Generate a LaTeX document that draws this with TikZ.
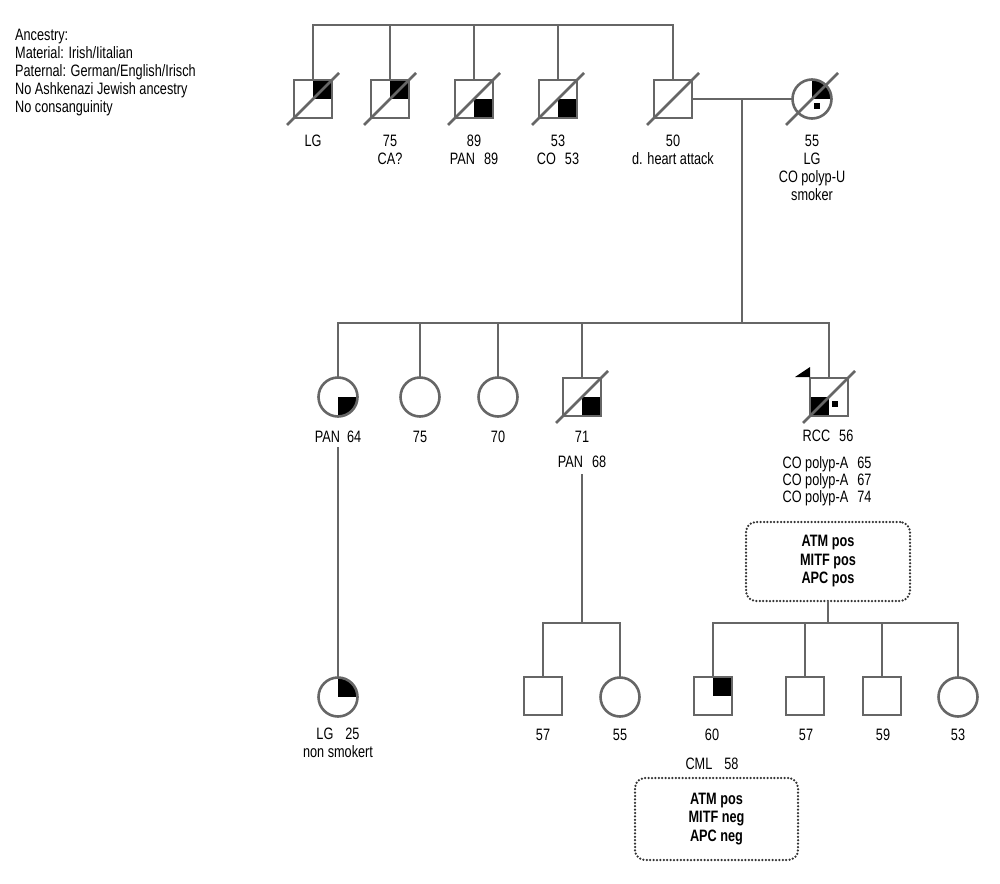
\documentclass[tikz,border=0pt]{standalone}
\usepackage{fontspec}
\setmainfont{Liberation Sans}[FakeStretch=0.77]
\definecolor{lgray}{HTML}{666666}
\definecolor{dgray}{HTML}{333333}
\begin{document}
\begin{tikzpicture}[x=1pt,y=-1pt,
  ln/.style={draw=lgray, line width=2.6pt},
  sl/.style={draw=lgray, line width=2.6pt},
  sq/.style={rectangle, draw=lgray, line width=2.6pt, minimum size=38pt, inner sep=0pt, outer sep=0pt},
  ci/.style={circle, draw=lgray, line width=2.6pt, minimum size=39pt, inner sep=0pt, outer sep=0pt},
  q/.style={path picture={\fill[black] (path picture bounding box.center) rectangle (path picture bounding box.#1);}},
  lb/.style={anchor=base, inner sep=0pt, font=\fontsize{16.5}{18}\selectfont},
  lt/.style={anchor=base west, inner sep=0pt, font=\fontsize{16.5}{18}\selectfont},
  bx/.style={rounded corners=10pt, draw=dgray, line width=2.5pt, dash pattern=on 0pt off 3.4pt, line cap=round,
    inner sep=0pt, outer sep=0pt, align=center, font=\fontsize{16.5}{18.5}\selectfont\bfseries}
]
\useasboundingbox (0,0) rectangle (1000,883);

% ancestry text
\node[lt] (t1) at (15,40.5) {Ancestry:};
\node[lt] (t2) at (15,58.5) {Material: Irish/Iitalian};
\node[lt] (t3) at (15,76.5) {Paternal: German/English/Irisch};
\node[lt] (t4) at (15,94.5) {No Ashkenazi Jewish ancestry};
\node[lt] (t5) at (15,112.5) {No consanguinity};

% generation I
\node[sq,q=north east] (a1) at (313,99) {};
\node[sq,q=north east] (a2) at (390,99) {};
\node[sq,q=south east] (a3) at (474,99) {};
\node[sq,q=south east] (a4) at (558,99) {};
\node[sq] (a5) at (673,99) {};
\node[ci,path picture={\fill[black] (path picture bounding box.center) rectangle (path picture bounding box.north east);
   \fill[black] ([shift={(2,4)}]path picture bounding box.center) rectangle +(6,6);}] (w) at (812,99) {};
\foreach \n in {a1,a2,a3,a4,a5,w}
  \draw[sl] ([shift={(-26,26)}]\n.center) -- ([shift={(26,-26)}]\n.center);

\coordinate (top) at (313,25);
\draw[ln] (a1.north) -- (a1.north |- top) -- (a5.north |- top) -- (a5.north);
\foreach \n in {a2,a3,a4} \draw[ln] (\n.north) -- (\n.north |- top);
\draw[ln] (a5.east) -- (w.west);
\coordinate (m) at (742,99);
\coordinate (s2) at (742,323);
\draw[ln] (m) -- (s2);

\node[lb] (la1) at (313,146.5) {LG};
\node[lb] (la2) at (390,146.5) {75};
\node[lb] (la2b) at (390,164) {CA?};
\node[lb] (la3) at (474,146.5) {89};
\node[lb] (la3b) at (474,164) {PAN\hspace{9pt}89};
\node[lb] (la4) at (558,146.5) {53};
\node[lb] (la4b) at (558,164) {CO\hspace{9pt}53};
\node[lb] (la5) at (673,146.5) {50};
\node[lb] (la5b) at (673,164) {d. heart attack};
\node[lb] (lw1) at (812,146.5) {55};
\node[lb] (lw2) at (812,164.5) {LG};
\node[lb] (lw3) at (812,182.5) {CO polyp-U};
\node[lb] (lw4) at (812,200.5) {smoker};

% generation II
\node[ci,q=south east] (c1) at (338,397) {};
\node[ci] (c2) at (420,397) {};
\node[ci] (c3) at (498,397) {};
\node[sq,q=south east] (c4) at (582,397) {};
\node[sq,path picture={\fill[black] (path picture bounding box.center) rectangle (path picture bounding box.south west);
   \fill[black] ([shift={(3,4)}]path picture bounding box.center) rectangle +(6,6);}] (p) at (829,397) {};
\foreach \n in {c4,p}
  \draw[sl] ([shift={(-26,26)}]\n.center) -- ([shift={(26,-26)}]\n.center);
\fill[black] ([shift={(-15,-1)}]p.north west) -- ([shift={(0,-1)}]p.north west) -- ([shift={(0,-11)}]p.north west) -- cycle;

\draw[ln] (c1.north) -- (c1.north |- s2) -- (p.north |- s2) -- (p.north);
\foreach \n in {c2,c3,c4} \draw[ln] (\n.north) -- (\n.north |- s2);

\node[lb] (lc1) at (338,442) {PAN\hspace{7pt}64};
\node[lb] (lc2) at (420,442) {75};
\node[lb] (lc3) at (498,442) {70};
\node[lb] (lc4) at (582,442) {71};
\node[lb] (lc4b) at (582,467) {PAN\hspace{9pt}68};
\node[lb] (lp1) at (828,441.5) {RCC\hspace{9pt}56};
\node[lb] (lp2) at (827,468) {CO polyp-A\hspace{9pt}65};
\node[lb] (lp3) at (827,485) {CO polyp-A\hspace{9pt}67};
\node[lb] (lp4) at (827,502) {CO polyp-A\hspace{9pt}74};

\node[bx, minimum width=164pt, minimum height=79pt] (b1) at (828,561.5) {ATM pos\\MITF pos\\APC pos};

% generation III
\node[ci,q=north east] (d1) at (338,697) {};
\coordinate (k64) at (338,447);
\draw[ln] (k64) -- (d1.north);
\node[lb] (ld1) at (338,739) {LG\hspace{12pt}25};
\node[lb] (ld1b) at (338,757) {non smokert};

\node[sq] (h1) at (543,696) {};
\node[ci] (h2) at (620,697) {};
\coordinate (k68) at (582,474);
\coordinate (s4) at (582,623);
\draw[ln] (k68) -- (s4);
\draw[ln] (h1.north) -- (h1.north |- s4) -- (h2.north |- s4) -- (h2.north);
\node[lb] (lh1) at (543,740) {57};
\node[lb] (lh2) at (620,740) {55};

\node[sq,q=north east] (g1) at (713,696) {};
\node[sq] (g2) at (805,696) {};
\node[sq] (g3) at (882,696) {};
\node[ci] (g4) at (958,697) {};
\coordinate (s3) at (828,623);
\draw[ln] (b1.south) -- (s3);
\draw[ln] (g1.north) -- (g1.north |- s3) -- (g4.north |- s3) -- (g4.north);
\foreach \n in {g2,g3} \draw[ln] (\n.north) -- (\n.north |- s3);
\node[lb] (lg1) at (712,740) {60};
\node[lb] (lg2) at (806,740) {57};
\node[lb] (lg3) at (883,740) {59};
\node[lb] (lg4) at (958,740) {53};
\node[lb] (lg1b) at (712,769) {CML\hspace{12pt}58};

\node[bx, minimum width=163pt, minimum height=82pt] (b2) at (716.5,819) {ATM pos\\MITF neg\\APC neg};
\end{tikzpicture}
\end{document}
